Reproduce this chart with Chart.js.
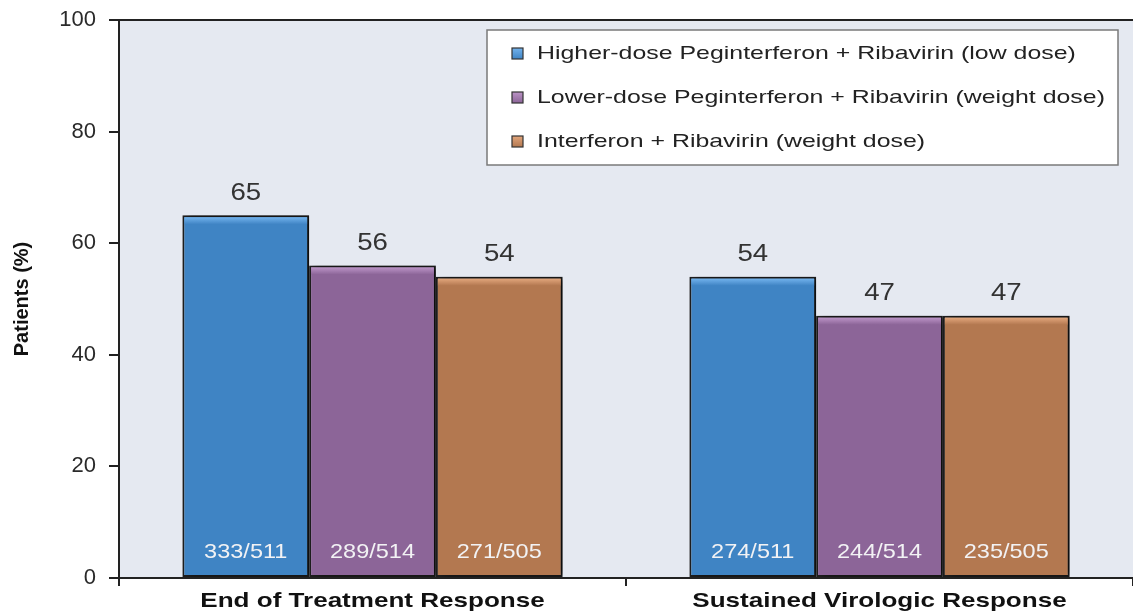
<!DOCTYPE html>
<html>
<head>
<meta charset="utf-8">
<script src="https://cdn.jsdelivr.net/npm/chart.js@4/dist/chart.umd.min.js"></script>
<style>
  html, body { margin: 0; padding: 0; background: #fff; }
  #wrap { width: 1133px; height: 614px; position: relative; }
</style>
</head>
<body>
<div id="wrap"><canvas id="chart" width="1133" height="614"></canvas></div>
<script>
// chart data
var categories = ['End of Treatment Response', 'Sustained Virologic Response'];
var seriesNames = [
	'Higher-dose Peginterferon + Ribavirin (low dose)',
	'Lower-dose Peginterferon + Ribavirin (weight dose)',
	'Interferon + Ribavirin (weight dose)'
];
var higherDose = [65, 54];
var lowerDose = [56, 47];
var interferon = [54, 47];
var higherFrac = ['333/511', '274/511'];
var lowerFrac = ['289/514', '244/514'];
var interferonFrac = ['271/505', '235/505'];
var yTicks = [0, 20, 40, 60, 80, 100];

var colors = ['#3f84c4', '#8c6598', '#b37850'];
var lightColors = ['#72b2ec', '#bb93c6', '#e2a67c'];
var fracs = [higherFrac, lowerFrac, interferonFrac];

var font = '"Liberation Sans", Arial, sans-serif';

// the source picture is a bit wide, so text gets stretched sideways
const wideText = (ctx, text, x, y, sx) => {
	ctx.save();
	ctx.translate(x, y);
	ctx.scale(sx, 1);
	ctx.fillText(text, 0, 0);
	ctx.restore();
};

// plot background + top frame line
var plotBg = {
	id: 'plotBg',
	beforeDraw: function (chart) {
		var a = chart.chartArea, ctx = chart.ctx;
		ctx.save();
		ctx.fillStyle = '#e5e9f1';
		ctx.fillRect(a.left, a.top, a.right - a.left, a.bottom - a.top);
		ctx.strokeStyle = '#222';
		ctx.lineWidth = 2;
		ctx.beginPath();
		ctx.moveTo(a.left, a.top);
		ctx.lineTo(a.right, a.top);
		ctx.stroke();
		ctx.restore();
	}
};

// bar shadows
var barShadow = {
	id: 'barShadow',
	beforeDatasetDraw: function (chart) {
		var ctx = chart.ctx;
		ctx.save();
		ctx.shadowColor = 'rgba(0,0,0,0.55)';
		ctx.shadowBlur = 6;
		ctx.shadowOffsetX = 5;
		ctx.shadowOffsetY = 0;
	},
	afterDatasetDraw: function (chart) {
		chart.ctx.restore();
	}
};

// bevel highlight and labels
var barLabels = {
	id: 'barLabels',
	afterDatasetsDraw: function (chart) {
		var ctx = chart.ctx;
		var yScale = chart.scales.y;
		var xScale = chart.scales.x;
		ctx.save();
		chart.data.datasets.forEach(function (ds, i) {
			var meta = chart.getDatasetMeta(i);
			meta.data.forEach(function (bar, j) {
				var left = bar.x - bar.width / 2 + 2;
				var right = bar.x + bar.width / 2 - 2;
				var top = bar.y + 2;
				var g = ctx.createLinearGradient(0, top, 0, top + 7);
				g.addColorStop(0, lightColors[i]);
				g.addColorStop(1, colors[i]);
				ctx.fillStyle = g;
				ctx.fillRect(left, top, right - left, 7);

				// value above bar
				ctx.fillStyle = '#333';
				ctx.font = '24px ' + font;
				ctx.textAlign = 'center';
				ctx.textBaseline = 'middle';
				wideText(ctx, ds.data[j], bar.x, bar.y - 22, 1.15);

				// n/N inside bar
				ctx.fillStyle = '#f2f2f4';
				ctx.font = '21px ' + font;
				wideText(ctx, fracs[i][j], bar.x, yScale.getPixelForValue(0) - 26, 1.12);
			});
		});

		// category labels
		ctx.fillStyle = '#111';
		ctx.font = 'bold 21px ' + font;
		ctx.textAlign = 'center';
		ctx.textBaseline = 'middle';
		chart.data.labels.forEach(function (lab, i) {
			wideText(ctx, lab, xScale.getPixelForValue(i), 601, 1.24);
		});
		ctx.restore();
	}
};

// legend box
var legendBox = {
	id: 'legendBox',
	afterDraw: function (chart) {
		var ctx = chart.ctx;
		var x = 487, y = 30, w = 631, h = 135;
		ctx.save();
		ctx.fillStyle = '#fff';
		ctx.fillRect(x, y, w, h);
		ctx.strokeStyle = '#7a7a7a';
		ctx.lineWidth = 1.5;
		ctx.strokeRect(x, y, w, h);
		ctx.font = '19px ' + font;
		ctx.textBaseline = 'middle';
		ctx.textAlign = 'left';
		chart.data.datasets.forEach(function (ds, i) {
			var cy = 53 + i * 44;
			var g = ctx.createLinearGradient(0, cy - 5, 0, cy + 6);
			g.addColorStop(0, lightColors[i]);
			g.addColorStop(1, colors[i]);
			ctx.fillStyle = g;
			ctx.fillRect(512, cy - 5, 11, 11);
			ctx.strokeStyle = '#333';
			ctx.lineWidth = 1.2;
			ctx.strokeRect(512, cy - 5, 11, 11);
			ctx.fillStyle = '#222';
			wideText(ctx, ds.label, 537, cy + 1, 1.31);
		});
		ctx.restore();
	}
};

var datasets = [higherDose, lowerDose, interferon].map(function (values, i) {
	return {
		label: seriesNames[i],
		data: values,
		backgroundColor: colors[i],
		borderColor: '#1e1e1e',
		borderWidth: 2,
		borderSkipped: false,
		categoryPercentage: 0.75,
		barPercentage: 1.0
	};
});

new Chart(document.getElementById('chart'), {
	type: 'bar',
	data: { labels: categories, datasets: datasets },
	plugins: [plotBg, barShadow, barLabels, legendBox],
	options: {
		responsive: false,
		animation: false,
		layout: { padding: { top: 20, right: 0, left: 0, bottom: 0 } },
		plugins: {
			legend: { display: false },
			tooltip: { enabled: false }
		},
		scales: {
			x: {
				grid: {
					display: true,
					drawOnChartArea: false,
					offset: true,
					tickLength: 8,
					color: '#222',
					lineWidth: 2
				},
				border: { color: '#222', width: 2 },
				ticks: { display: false },
				afterFit: function (scale) { scale.height = 36; }
			},
			y: {
				min: 0,
				max: 100,
				afterBuildTicks: function (scale) {
					scale.ticks = yTicks.map(function (v) { return { value: v }; });
				},
				grid: {
					drawOnChartArea: false,
					tickLength: 10,
					color: '#222',
					lineWidth: 2
				},
				border: { color: '#222', width: 2 },
				ticks: {
					color: '#2a2a2a',
					padding: 13,
					font: { family: font, size: 22 }
				},
				title: {
					display: true,
					text: 'Patients (%)',
					color: '#111',
					padding: { top: 10, bottom: 0 },
					font: { family: font, size: 20, weight: 'bold' }
				},
				afterFit: function (scale) {
					scale.width = 119;
					scale.paddingTop = 0;
					scale.paddingBottom = 0;
				}
			}
		}
	}
});
</script>
</body>
</html>
